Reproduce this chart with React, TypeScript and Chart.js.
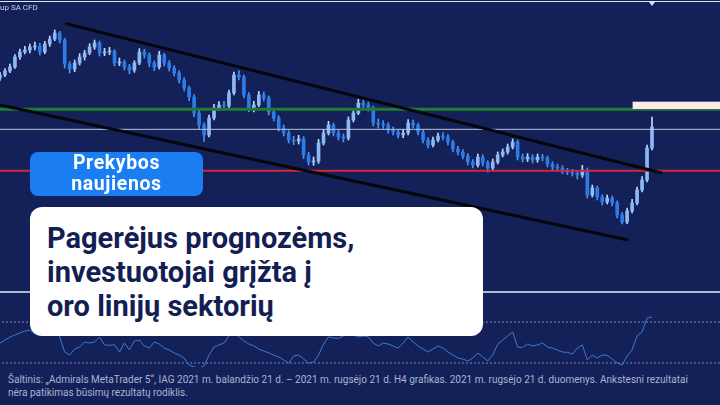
import { useEffect, useRef } from "react";
import { Chart, registerables } from "chart.js";

Chart.register(...registerables);

// ---- Price data (H4 candles, pence) ----
const firstOpen = 196.6;
const closes = [
  197.5, 198.7, 199.9, 202.9, 204.4, 205.0, 205.9, 206.2, 204.4, 206.8,
  208.3, 210.1, 208.0, 200.8, 199.3, 201.1, 202.9, 204.1, 205.9, 207.1,
  204.1, 204.4, 204.6, 201.1, 201.4, 199.9, 199.0, 201.1, 204.4, 203.5,
  201.1, 199.9, 203.5, 201.1, 199.6, 198.1, 196.0, 193.6, 190.9, 186.1,
  182.5, 179.5, 184.6, 187.6, 188.5, 188.2, 192.1, 197.5, 196.9, 191.5,
  187.6, 188.5, 191.5, 190.6, 186.4, 184.6, 181.6, 180.1, 178.0, 177.7,
  178.3, 173.5, 171.4, 171.7, 177.1, 180.1, 182.5, 180.1, 178.9, 178.6,
  184.0, 186.1, 189.1, 188.5, 187.6, 183.1, 182.8, 182.5, 181.0, 180.4,
  179.5, 180.1, 183.1, 182.5, 180.4, 178.0, 176.5, 178.0, 179.2, 178.9,
  177.4, 175.3, 174.4, 173.2, 171.4, 170.5, 172.9, 171.1, 169.6, 171.4,
  173.5, 174.4, 175.9, 177.4, 172.9, 172.3, 172.9, 172.0, 172.9, 172.6,
  170.8, 169.9, 169.6, 168.7, 168.4, 168.1, 167.5, 169.0, 161.5, 163.6,
  160.9, 159.4, 160.6, 159.1, 155.5, 153.4, 156.7, 159.1, 163.0, 166.0,
  175.6, 181.9,
];
const highs = [
  198.3, 199.4, 200.8, 203.6, 205.3, 206.1, 206.8, 207.4, 207.0, 207.6,
  209.2, 211.0, 210.6, 208.5, 201.5, 202.0, 203.9, 204.9, 206.9, 208.0,
  207.7, 205.5, 205.8, 205.1, 202.6, 202.0, 200.7, 201.8, 205.4, 205.2,
  204.1, 201.7, 204.6, 204.0, 201.8, 200.3, 198.8, 196.7, 194.2, 191.6,
  186.9, 183.2, 185.5, 188.7, 189.5, 189.6, 193.0, 198.4, 198.8, 197.5,
  192.2, 189.6, 192.6, 192.4, 191.2, 187.1, 185.3, 182.5, 180.8, 179.1,
  179.4, 179.0, 174.3, 172.9, 178.2, 181.0, 183.6, 183.1, 180.9, 179.8,
  184.9, 187.0, 190.2, 190.0, 189.4, 188.2, 184.3, 183.8, 183.2, 181.9,
  181.1, 181.2, 184.1, 184.0, 183.1, 181.0, 178.7, 178.9, 180.1, 180.2,
  179.6, 178.0, 176.1, 175.1, 173.9, 172.1, 173.8, 173.6, 171.8, 172.3,
  174.4, 175.3, 176.8, 178.3, 178.0, 173.8, 173.9, 173.6, 173.8, 173.7,
  173.2, 171.5, 170.8, 170.3, 169.5, 169.2, 168.9, 170.4, 169.6, 164.5,
  164.2, 161.6, 161.5, 161.2, 159.7, 156.2, 157.6, 160.2, 163.9, 167.0,
  176.5, 184.9,
];
const lows = [
  195.9, 197.0, 198.2, 199.5, 202.2, 203.8, 204.1, 205.0, 203.5, 203.9,
  206.1, 207.8, 207.1, 199.6, 198.1, 198.5, 200.5, 202.0, 203.6, 205.2,
  203.2, 203.3, 203.6, 200.2, 200.3, 199.0, 197.9, 198.3, 200.6, 202.6,
  200.0, 198.8, 199.3, 200.2, 198.7, 197.2, 195.1, 192.7, 189.8, 185.0,
  181.4, 177.6, 178.9, 184.0, 186.8, 187.3, 187.6, 191.5, 196.0, 190.6,
  186.5, 186.4, 188.0, 189.7, 185.5, 183.7, 180.7, 179.2, 177.1, 176.6,
  176.8, 172.4, 170.5, 170.4, 171.0, 176.5, 179.5, 179.2, 178.0, 177.4,
  178.0, 183.4, 185.6, 187.6, 186.7, 182.2, 181.6, 181.5, 180.1, 179.5,
  178.6, 178.7, 179.5, 181.6, 179.5, 177.1, 175.6, 175.9, 177.4, 178.0,
  176.5, 174.4, 173.5, 172.3, 170.5, 169.6, 169.9, 170.2, 168.4, 169.0,
  170.8, 172.9, 173.8, 175.3, 172.0, 171.4, 171.5, 171.1, 171.3, 171.7,
  169.9, 169.0, 168.8, 167.9, 167.6, 167.2, 166.3, 166.8, 160.6, 160.9,
  160.0, 158.5, 158.8, 158.2, 154.6, 152.8, 152.9, 156.1, 158.5, 162.4,
  165.4, 175.0,
];

// ---- Oscillator (RSI) ----
const rsi = [
  49.5, 52.4, 55.4, 57.3, 59.3, 61.2, 62.2, 58.3, 60.3, 64.2,
  66.1, 62.2, 55.4, 40.7, 37.8, 43.7, 45.6, 50.5, 49.5, 50.5,
  55.4, 47.6, 47.3, 47.9, 40.7, 49.5, 42.7, 51.5, 52.4, 46.6,
  44.6, 50.5, 48.5, 44.6, 42.7, 39.8, 37.8, 34.9, 28.0, 26.1,
  25.1, 27.1, 37.8, 45.6, 47.6, 49.5, 56.4, 60.3, 55.4, 51.5,
  48.5, 46.6, 43.7, 41.7, 39.8, 37.8, 35.9, 32.9, 30.0, 36.8,
  37.8, 33.9, 30.0, 31.0, 37.8, 48.5, 55.4, 54.4, 54.0, 56.4,
  59.3, 57.3, 55.4, 56.4, 55.4, 49.5, 46.6, 49.5, 48.5, 46.6,
  44.6, 49.5, 55.4, 50.5, 46.6, 43.7, 40.7, 43.7, 46.6, 44.6,
  40.7, 37.8, 34.9, 33.9, 32.0, 34.9, 39.8, 35.9, 32.0, 37.8,
  48.5, 52.4, 56.4, 60.3, 45.6, 45.2, 48.5, 46.6, 47.6, 49.5,
  45.6, 44.6, 42.7, 40.7, 40.4, 38.8, 44.6, 47.6, 32.9, 37.8,
  34.9, 37.8, 37.5, 33.9, 30.0, 28.0, 36.8, 42.7, 56.4, 60.3,
  73.9, 74.9,
];
const rsiLevels = [70, 30];

// ---- Levels & trend lines (candle index, price) ----
const greenLevel = 187.2;
const grayLevel = 181.2;
const redLevel = 168.8;
const upperTrend = [{ x: 13.06, y: 213.0 }, { x: 133.0, y: 168.1 }];
const lowerTrend = [{ x: 0, y: 188.5 }, { x: 126.2, y: 148.0 }];
const priceTagBand = [187.3, 189.5];
const priceTagStart = 127.1;

const X_MAX = 144.66;
const BG = "#142158";
const NAVY = "#131e52";

const opens = closes.map((c, i) => (i === 0 ? firstOpen : closes[i - 1]));
const idx = closes.map((_, i) => i);
const up = closes.map((c, i) => c >= opens[i]);

const tagPlugin = {
  id: "tag",
  afterDatasetsDraw(chart: any) {
    const { ctx, scales, chartArea } = chart;
    const x = scales.x;
    const y = scales.y;
    const left = x.getPixelForValue(priceTagStart);
    const top = y.getPixelForValue(priceTagBand[1]);
    const bottom = y.getPixelForValue(priceTagBand[0]);
    ctx.save();
    ctx.fillStyle = "#fde9e6";
    ctx.fillRect(left, top, chartArea.right - left, bottom - top);
    const lx = x.getPixelForValue(closes.length - 1);
    ctx.fillStyle = "#cfe0ff";
    ctx.beginPath();
    ctx.moveTo(lx - 3, 2);
    ctx.lineTo(lx + 3, 2);
    ctx.lineTo(lx, 6);
    ctx.closePath();
    ctx.fill();
    ctx.restore();
  },
};

const hLine = (v: number, color: string, width: number, order: number, dash?: number[]) => ({
  type: "line" as const,
  data: [{ x: -2, y: v }, { x: X_MAX + 2, y: v }],
  borderColor: color,
  borderWidth: width,
  borderDash: dash || [],
  pointRadius: 0,
  order,
});

export default function App() {
  const mainRef = useRef<HTMLCanvasElement>(null);
  const oscRef = useRef<HTMLCanvasElement>(null);

  useEffect(() => {
    document.body.style.margin = "0";
    const main = new Chart(mainRef.current!, {
      type: "bar",
      data: {
        datasets: [
          { type: "line", data: upperTrend, borderColor: "#04060c", borderWidth: 3, pointRadius: 0, order: 0 },
          { type: "line", data: lowerTrend, borderColor: "#04060c", borderWidth: 3, pointRadius: 0, order: 0 },
          hLine(greenLevel, "#1f7d33", 3, 1),
          hLine(grayLevel, "#b9c3df", 1, 1),
          hLine(redLevel, "#d6243c", 2, 1),
          {
            type: "bar",
            data: idx.map((i) => ({ x: i, y: [opens[i], closes[i]] })),
            backgroundColor: idx.map((i) => (up[i] ? "#8cb9f6" : "#2b7be8")),
            barThickness: 3,
            minBarLength: 1,
            grouped: false,
            order: 2,
          },
          {
            type: "bar",
            data: idx.map((i) => ({ x: i, y: [lows[i], highs[i]] })),
            backgroundColor: idx.map((i) => (up[i] ? "#c4dafc" : "#4d93ef")),
            barThickness: 1,
            grouped: false,
            order: 3,
          },
        ] as any,
      },
      options: {
        animation: false,
        responsive: false,
        maintainAspectRatio: false,
        events: [],
        layout: { padding: 0 },
        plugins: { legend: { display: false }, tooltip: { enabled: false } },
        scales: {
          x: { type: "linear", min: 0, max: X_MAX, display: false, offset: false },
          y: { min: 132.4, max: 220, display: false },
        },
      },
      plugins: [tagPlugin],
    });

    const osc = new Chart(oscRef.current!, {
      type: "line",
      data: {
        datasets: [
          {
            data: idx.map((i) => ({ x: i, y: rsi[i] })),
            borderColor: "#3a7bd6",
            borderWidth: 1,
            pointRadius: 0,
            tension: 0,
            order: 0,
          },
          ...rsiLevels.map((v) => hLine(v, "#7f89b3", 1, 1, [2, 2])),
        ] as any,
      },
      options: {
        animation: false,
        responsive: false,
        maintainAspectRatio: false,
        events: [],
        layout: { padding: 0 },
        plugins: { legend: { display: false }, tooltip: { enabled: false } },
        scales: {
          x: { type: "linear", min: 0, max: X_MAX, display: false },
          y: { min: 26.1, max: 91.5, display: false },
        },
      },
    });

    return () => {
      main.destroy();
      osc.destroy();
    };
  }, []);

  return (
    <div
      style={{
        position: "relative",
        width: 720,
        height: 405,
        background: BG,
        overflow: "hidden",
        fontFamily: "Roboto, 'Noto Sans', sans-serif",
      }}
    >
      <canvas ref={mainRef} width={720} height={292} style={{ position: "absolute", left: 0, top: 0, width: 720, height: 292 }} />
      <canvas ref={oscRef} width={720} height={67} style={{ position: "absolute", left: 0, top: 300, width: 720, height: 67 }} />
      <div style={{ position: "absolute", left: 0, top: 1, width: 720, height: 1, background: "#dfe4f3" }} />
      <div style={{ position: "absolute", left: 0, top: 291, width: 720, height: 1.5, background: "#aeb7d6" }} />
      <div style={{ position: "absolute", left: 0, top: 3, fontSize: 8, color: "#c9d1ea", whiteSpace: "nowrap" }}>up SA CFD</div>
      <div
        style={{
          position: "absolute",
          left: 30,
          top: 152,
          width: 173,
          height: 44,
          background: "#1a7ef2",
          borderRadius: 8,
          color: "#ffffff",
          fontWeight: 700,
          fontSize: 19.5,
          letterSpacing: "0.6px",
          lineHeight: "21px",
          textAlign: "center",
        }}
      >
        Prekybos
        <br />
        naujienos
      </div>
      <div
        style={{
          position: "absolute",
          left: 30,
          top: 207,
          width: 453,
          height: 129,
          background: "#ffffff",
          borderRadius: 12,
          color: NAVY,
          fontWeight: 700,
          fontSize: 29,
          lineHeight: "34px",
          boxSizing: "border-box",
          padding: "14px 0 0 17px",
          whiteSpace: "nowrap",
        }}
      >
        Pagerėjus prognozėms,
        <br />
        investuotojai grįžta į
        <br />
        oro linijų sektorių
      </div>
      <div
        style={{
          position: "absolute",
          left: 8,
          top: 374,
          fontSize: 10,
          lineHeight: "12.5px",
          color: "#a9b2d4",
          whiteSpace: "nowrap",
        }}
      >
        Šaltinis: „Admirals MetaTrader 5“, IAG 2021 m. balandžio 21 d. – 2021 m. rugsėjo 21 d. H4 grafikas. 2021 m. rugsėjo 21 d. duomenys. Ankstesni rezultatai
        <br />
        nėra patikimas būsimų rezultatų rodiklis.
      </div>
    </div>
  );
}
